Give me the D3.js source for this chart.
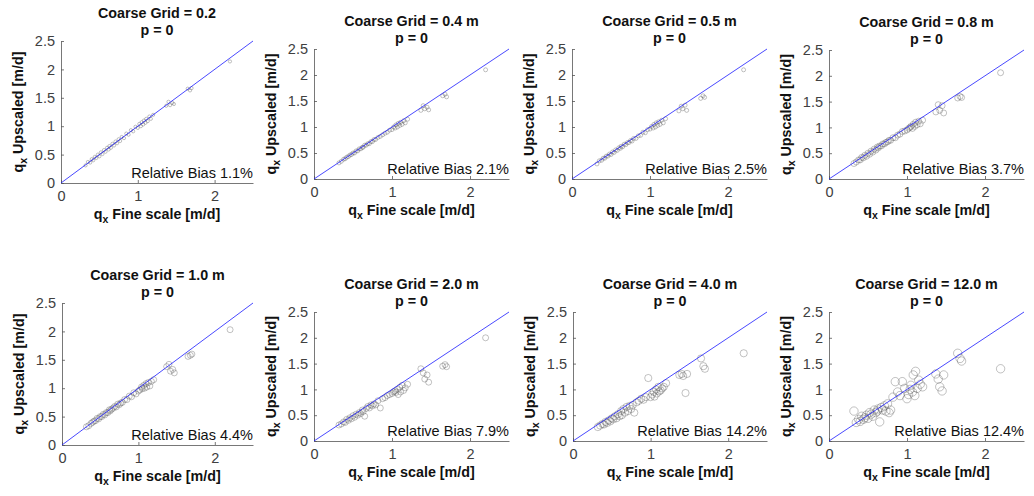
<!DOCTYPE html>
<html lang="en">
<head>
    <meta charset="UTF-8">
    <title>Upscaled vs fine scale qx</title>
    <script src="https://cdnjs.cloudflare.com/ajax/libs/d3/7.8.5/d3.min.js"></script>
    <style>
        body {
            margin: 0;
            background-color: white;
        }

        svg text {
            font-family: "Liberation Sans", Arial, sans-serif;
        }

        .tick text {
            fill: #404040;
            font-size: 14.5px;
        }

        .domain, .tick line {
            stroke: #555;
            stroke-width: 0.8;
        }

        .title, .axis-label {
            font-weight: bold;
            font-size: 14.3px;
            fill: #111;
        }

        .bias {
            font-size: 14.5px;
            fill: #111;
        }

        .pt {
            fill: none;
            stroke: #444;
            stroke-opacity: 0.55;
            stroke-width: 0.6;
        }
    </style>
</head>
<body>
<section id="chart"></section>
<script>
    // panel labels
    const gridLabels = ['0.2', '0.4 m', '0.5 m', '0.8 m', '1.0 m', '2.0 m', '4.0 m', '12.0 m'];
    const biasLabels = ['1.1%', '2.1%', '2.5%', '3.7%', '4.4%', '7.9%', '14.2%', '12.4%'];
    const xTicks = [0, 1, 2];
    const yTicks = [0, 0.5, 1, 1.5, 2, 2.5];

    // fine scale qx (same cells in every panel)
    const qFine = [0.32, 0.35, 0.38, 0.40, 0.42, 0.44, 0.46, 0.48, 0.50, 0.52, 0.54, 0.56, 0.58, 0.60, 0.62, 0.63, 0.65, 0.67, 0.69, 0.71,
        0.73, 0.75, 0.77, 0.79, 0.82, 0.85, 0.88, 0.91, 0.94, 0.97,
        1.00, 1.02, 1.04, 1.05, 1.07, 1.08, 1.10, 1.11, 1.13, 1.15, 1.17, 1.20,
        1.37, 1.40, 1.42, 1.45, 1.47,
        1.65, 1.68, 1.70,
        2.20];

    // upscaled qx, one list per coarse grid
    const qUp02 = [0.31, 0.37, 0.36, 0.42, 0.40, 0.46, 0.44, 0.50, 0.47, 0.54, 0.51, 0.58, 0.55, 0.62, 0.59, 0.65, 0.62, 0.69, 0.66, 0.73,
        0.70, 0.77, 0.74, 0.81, 0.79, 0.87, 0.85, 0.93, 0.91, 0.99,
        0.97, 1.04, 1.00, 1.07, 1.03, 1.10, 1.06, 1.13, 1.09, 1.17, 1.13, 1.20,
        1.36, 1.43, 1.37, 1.41, 1.39,
        1.66, 1.63, 1.67,
        2.14];
    const qUp04 = [0.31, 0.34, 0.38, 0.39, 0.42, 0.43, 0.46, 0.47, 0.50, 0.50, 0.54, 0.54, 0.58, 0.58, 0.61, 0.61, 0.65, 0.65, 0.68, 0.68,
        0.72, 0.72, 0.76, 0.76, 0.80, 0.82, 0.85, 0.88, 0.90, 0.94,
        0.95, 1.00, 0.98, 1.04, 1.00, 1.07, 1.03, 1.09, 1.05, 1.12, 1.08, 1.15,
        1.32, 1.41, 1.35, 1.38, 1.33,
        1.60, 1.63, 1.58,
        2.10];
    const qUp05 = [0.29, 0.35, 0.36, 0.40, 0.40, 0.44, 0.44, 0.48, 0.47, 0.52, 0.51, 0.56, 0.55, 0.60, 0.59, 0.63, 0.62, 0.67, 0.66, 0.70,
        0.70, 0.74, 0.73, 0.78, 0.78, 0.83, 0.84, 0.90, 0.89, 0.95,
        0.96, 1.01, 0.98, 1.05, 1.00, 1.08, 1.03, 1.10, 1.05, 1.13, 1.08, 1.16,
        1.31, 1.40, 1.35, 1.42, 1.32,
        1.55, 1.60, 1.57,
        2.10];
    const qUp08 = [0.30, 0.33, 0.37, 0.37, 0.42, 0.41, 0.46, 0.44, 0.50, 0.48, 0.54, 0.52, 0.58, 0.56, 0.62, 0.60, 0.64, 0.64, 0.68, 0.68,
        0.71, 0.72, 0.75, 0.75, 0.80, 0.80, 0.85, 0.87, 0.92, 0.93,
        0.95, 0.98, 1.00, 1.02, 0.98, 1.06, 1.02, 1.10, 1.05, 1.12, 1.07, 1.14,
        1.30, 1.44, 1.33, 1.42, 1.28,
        1.57, 1.60, 1.58,
        2.06];
    const qUp10 = [0.32, 0.34, 0.38, 0.40, 0.42, 0.43, 0.47, 0.46, 0.50, 0.50, 0.54, 0.53, 0.57, 0.57, 0.62, 0.60, 0.63, 0.65, 0.68, 0.67,
        0.72, 0.71, 0.74, 0.75, 0.80, 0.80, 0.86, 0.85, 0.92, 0.90,
        0.95, 0.97, 1.02, 0.99, 1.05, 1.00, 1.08, 1.02, 1.10, 1.04, 1.12, 1.15,
        1.38, 1.42, 1.30, 1.33, 1.27,
        1.56, 1.58, 1.60,
        2.03];
    const qUp20 = [0.31, 0.33, 0.37, 0.36, 0.42, 0.40, 0.45, 0.43, 0.49, 0.46, 0.52, 0.50, 0.55, 0.53, 0.60, 0.57, 0.48, 0.63, 0.67, 0.64,
        0.70, 0.68, 0.72, 0.70, 0.78, 0.64, 0.82, 0.84, 0.88, 0.90,
        0.92, 0.95, 0.97, 0.94, 1.00, 0.90, 1.04, 0.95, 1.08, 0.98, 1.03, 1.10,
        1.40, 1.32, 1.20, 1.28, 1.14,
        1.45, 1.48, 1.44,
        2.00];
    const qUp40 = [0.27, 0.30, 0.33, 0.32, 0.37, 0.35, 0.40, 0.38, 0.44, 0.42, 0.48, 0.44, 0.52, 0.48, 0.58, 0.50, 0.62, 0.55, 0.66, 0.58,
        0.68, 0.62, 0.70, 0.55, 0.75, 0.78, 0.82, 0.80, 0.85, 1.22,
        0.85, 0.90, 0.95, 0.86, 1.00, 0.92, 1.05, 0.96, 0.98, 1.02, 1.05, 1.12,
        1.28, 1.30, 1.26, 0.93, 1.30,
        1.60, 1.45, 1.40,
        1.70];
    const qUp120 = [0.58, 0.36, 0.42, 0.38, 0.48, 0.42, 0.45, 0.50, 0.44, 0.55, 0.52, 0.48, 0.60, 0.55, 0.58, 0.62, 0.37, 0.65, 0.60, 0.68,
        0.58, 0.72, 0.55, 0.60, 0.85, 1.15, 0.95, 0.88, 1.15, 1.02,
        0.82, 0.90, 1.00, 1.08, 0.95, 1.28, 0.88, 1.35, 1.02, 1.18, 1.10, 1.05,
        1.30, 1.20, 1.05, 0.97, 1.28,
        1.70, 1.60, 1.55,
        1.40];
    const qUpscaled = [qUp02, qUp04, qUp05, qUp08, qUp10, qUp20, qUp40, qUp120];

    // plot boxes in page pixels: left, top, right, bottom
    const boxes = [
        [61, 41, 253, 183], [314, 49, 509, 179], [572, 49, 767, 179], [829, 50, 1024, 179],
        [62, 303, 253, 445], [314, 312, 509, 441], [573, 312, 767, 441], [829, 312, 1024, 441]
    ];
    const markerR = [1.6, 2, 2, 3, 3, 3, 3.6, 4.2];

    const width = 1034;
    const height = 496;
    const svg = d3.select('#chart').append('svg').attr('width', width).attr('height', height);

    function addQx(sel, rest) {
        sel.append('tspan').text('q');
        sel.append('tspan').attr('font-size', '10.5px').attr('dy', 4).text('x');
        sel.append('tspan').attr('dy', -4).text(' ' + rest);
    }

    boxes.forEach(([l, t, r, b], i) => {
        const x = d3.scaleLinear().domain([0, 2.5]).range([l, r]);
        const y = d3.scaleLinear().domain([0, 2.5]).range([b, t]);
        const g = svg.append('g');

        g.append('g').attr('transform', `translate(0,${b})`)
            .call(d3.axisBottom(x).tickValues(xTicks).tickFormat(d3.format('')).tickSizeInner(-3).tickSizeOuter(0).tickPadding(8));
        g.append('g').attr('transform', `translate(${l},0)`)
            .call(d3.axisLeft(y).tickValues(yTicks).tickFormat(d3.format('')).tickSizeInner(-3).tickSizeOuter(0).tickPadding(6));

        const pts = qFine.map((v, j) => [v, qUpscaled[i][j]]);
        g.append('g').selectAll('circle').data(pts).enter().append('circle')
            .attr('class', 'pt')
            .attr('cx', d => x(d[0]))
            .attr('cy', d => y(d[1]))
            .attr('r', markerR[i]);

        g.append('line')
            .attr('x1', x(0)).attr('y1', y(0)).attr('x2', x(2.5)).attr('y2', y(2.5))
            .attr('stroke', '#1a1aff').attr('stroke-width', 0.8);

        const cx = (l + r) / 2;
        g.append('text').attr('class', 'title').attr('x', cx).attr('y', t - 23)
            .attr('text-anchor', 'middle').text('Coarse Grid = ' + gridLabels[i]);
        g.append('text').attr('class', 'title').attr('x', cx).attr('y', t - 6)
            .attr('text-anchor', 'middle').text('p = 0');

        g.append('text').attr('class', 'bias').attr('x', r).attr('y', b - 5)
            .attr('text-anchor', 'end').text('Relative Bias ' + biasLabels[i]);

        addQx(g.append('text').attr('class', 'axis-label').attr('x', cx).attr('y', b + 36)
            .attr('text-anchor', 'middle'), 'Fine scale [m/d]');

        addQx(g.append('text').attr('class', 'axis-label')
            .attr('transform', `translate(${l - 38},${(t + b) / 2}) rotate(-90)`)
            .attr('text-anchor', 'middle'), 'Upscaled [m/d]');
    });
</script>
</body>
</html>
